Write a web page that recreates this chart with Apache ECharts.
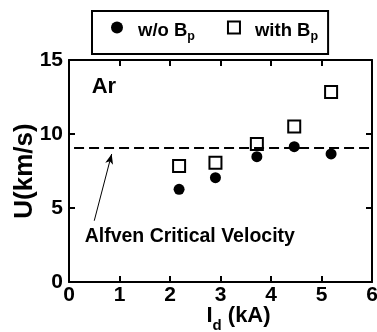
<!DOCTYPE html>
<html>
<head>
<meta charset="utf-8">
<script src="https://cdn.jsdelivr.net/npm/echarts@6/dist/echarts.min.js"></script>
<style>
  html, body { margin: 0; padding: 0; background: #fff; }
  #main { width: 377px; height: 332px; }
</style>
</head>
<body>
<div id="main"></div>
<script>
// values
var currentKA = [2.18, 2.9, 3.72, 4.46, 5.19];
var withoutBp = [6.26, 7.05, 8.47, 9.14, 8.65];
var withBp = [7.84, 8.06, 9.32, 10.5, 12.84];
var critical = 9.05;
var criticalSpan = [0.1, 5.98];
var arrowFrom = [0.5, 4.14];
var arrowTo = [0.845, 8.65];
var notes = ['Ar', 'Alfven Critical Velocity'];
var noteAt = [[0.45, 13.2], [0.31, 3.05]];
var xTicks = [0, 1, 2, 3, 4, 5, 6];
var yTicks = [0, 5, 10, 15];

var font = 'Liberation Sans, Arial, sans-serif';

var myChart = echarts.init(document.getElementById('main'));

var pairs = function (ys) {
    return currentKA.map(function (x, i) { return [x, ys[i]]; });
};

var sub = {
    g: { fontFamily: font, fontWeight: 'bold', fontSize: 18.5, color: '#000', padding: [7, 0, 0, 10] },
    s: { fontFamily: font, fontWeight: 'bold', fontSize: 12.5, color: '#000', padding: [19, 0, 0, 0] }
};

var frameAxis = {
    axisLine: { show: true, onZero: false, lineStyle: { color: '#000', width: 2 } },
    axisTick: { show: true, inside: true, length: 6, lineStyle: { width: 2 } },
    splitLine: { show: false }
};

myChart.setOption({
    animation: false,
    grid: { left: 69, right: 5, top: 60, bottom: 50, outerBoundsMode: 'none' },
    legend: {
        left: 92,
        top: 11,
        padding: [9.5, 10, 10.5, 19],
        itemGap: 32,
        itemWidth: 12,
        itemHeight: 12,
        borderColor: '#000',
        borderWidth: 2,
        borderRadius: 0,
        data: ['w/o Bp', 'with Bp'],
        formatter: function (name) {
            return name === 'w/o Bp' ? '{g|w/o B}{s|p}' : '{g|with B}{s|p}';
        },
        textStyle: { rich: sub }
    },
    xAxis: [Object.assign({
        type: 'value',
        min: 0, max: 6, interval: 1,
        name: '{a|I}{s|d}{a| (kA)}',
        nameLocation: 'middle',
        nameGap: 16,
        nameMoveOverlap: false,
        nameTextStyle: {
            padding: [0, 0, 0, 36],
            rich: {
                a: { fontFamily: font, fontWeight: 'bold', fontSize: 22, color: '#000' },
                s: { fontFamily: font, fontWeight: 'bold', fontSize: 15, color: '#000', padding: [20, 0, 0, 0] }
            }
        },
        axisLabel: {
            margin: 3,
            fontFamily: font, fontWeight: 'bold', fontSize: 21, color: '#000',
            formatter: function (v) { return xTicks.indexOf(v) >= 0 ? String(v) : ''; }
        }
    }, frameAxis), Object.assign({
        type: 'value', position: 'top',
        min: 0, max: 6, interval: 1,
        axisLabel: { show: false }
    }, frameAxis)],
    yAxis: [Object.assign({
        type: 'value',
        min: 0, max: 15, interval: 5,
        name: 'U(km/s)',
        nameLocation: 'middle',
        nameGap: 31,
        nameMoveOverlap: false,
        nameTextStyle: { fontFamily: font, fontWeight: 'bold', fontSize: 26, color: '#000' },
        axisLabel: {
            margin: 6,
            fontFamily: font, fontWeight: 'bold', fontSize: 21, color: '#000',
            formatter: function (v) { return yTicks.indexOf(v) >= 0 ? String(v) : ''; }
        }
    }, frameAxis), Object.assign({
        type: 'value', position: 'right',
        min: 0, max: 15, interval: 5,
        axisLabel: { show: false }
    }, frameAxis)],
    series: [{
        name: 'critical',
        type: 'line',
        silent: true,
        symbol: 'none',
        data: criticalSpan.map(function (x) { return [x, critical]; }),
        lineStyle: { color: '#000', width: 2, type: [10, 5] },
        markLine: {
            silent: true,
            symbol: ['none', 'arrow'],
            symbolSize: [6, 10],
            label: { show: false },
            lineStyle: { color: '#000', width: 1, type: 'solid' },
            data: [[{ coord: arrowFrom }, { coord: arrowTo }]]
        }
    }, {
        name: 'w/o Bp',
        type: 'scatter',
        symbol: 'circle',
        symbolSize: 11,
        itemStyle: { color: '#000', opacity: 1 },
        data: pairs(withoutBp)
    }, {
        name: 'with Bp',
        type: 'scatter',
        symbol: 'rect',
        symbolSize: 12,
        itemStyle: { color: '#fff', borderColor: '#000', borderWidth: 2, opacity: 1 },
        data: pairs(withBp)
    }]
});

// text notes placed in data coordinates
var noteSizes = [22, 19.5];
myChart.setOption({
    graphic: notes.map(function (t, i) {
        var p = myChart.convertToPixel({ gridIndex: 0 }, noteAt[i]);
        return {
            type: 'text', x: p[0], y: p[1], silent: true,
            style: {
                text: t, fill: '#000', fontFamily: font, fontWeight: 'bold',
                fontSize: noteSizes[i], verticalAlign: 'middle', align: 'left'
            }
        };
    })
});
</script>
</body>
</html>
